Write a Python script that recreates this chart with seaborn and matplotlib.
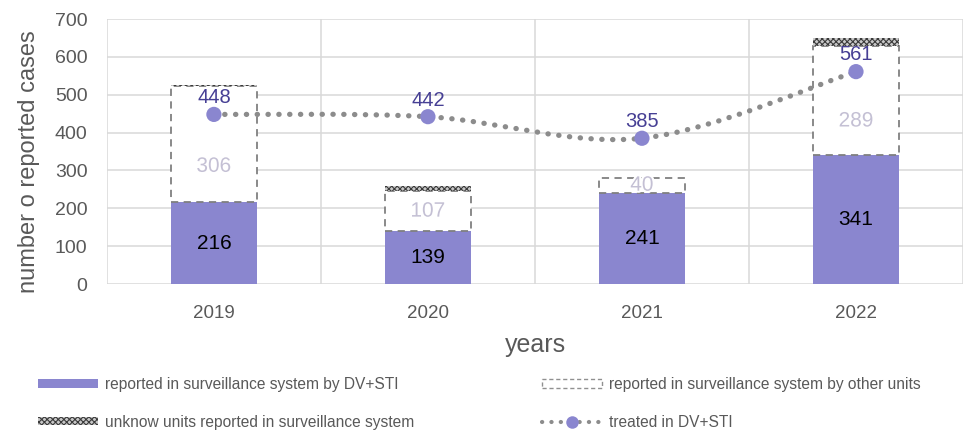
import numpy as np
import pandas as pd
import matplotlib
matplotlib.use("Agg")
import matplotlib.pyplot as plt
from matplotlib.path import Path
from matplotlib.patches import PathPatch, Patch
from matplotlib.lines import Line2D
import matplotlib.patheffects as pe
import seaborn as sns

years = ["2019", "2020", "2021", "2022"]
dv_sti = [216, 139, 241, 341]
other_units = [306, 107, 40, 289]
unknown_units = [3, 13, 0, 20]
treated = [448, 442, 385, 561]

sns.set_theme(style="white")
plt.rcParams["font.family"] = ["Liberation Sans", "DejaVu Sans"]
plt.rcParams["hatch.linewidth"] = 0.8

PURPLE = "#8A86CF"
GREY_TXT = "#595959"
GRID = "#D9D9D9"

fig = plt.figure(figsize=(9.63, 4.34), dpi=100)
ax = fig.add_axes([0.111, 0.3456, 0.889, 0.6106])

df = pd.DataFrame({"year": years, "dv": dv_sti, "other": other_units,
                   "unknown": unknown_units, "treated": treated})
x = np.arange(len(years))
width = 0.4

# DV+STI segment via seaborn
sns.barplot(data=df, x="year", y="dv", color=PURPLE, width=width,
            saturation=1, ax=ax, zorder=2, linewidth=0)

# other units segment (white, dashed outline)
bottoms_other = np.array(dv_sti)
ax.bar(x, other_units, width=width, bottom=bottoms_other, facecolor="white",
       edgecolor="#808080", linestyle=(0, (4, 3)), linewidth=1.3, zorder=3)
# unknown units segment (hatched)
bottoms_unk = bottoms_other + np.array(other_units)
ax.bar(x, unknown_units, width=width, bottom=bottoms_unk, facecolor="#C8C8C8",
       edgecolor="#3A3A3A", hatch="xxxxxx", linewidth=0, zorder=3)

# smoothed line (Excel-like bezier through the points)
pts = np.column_stack([x, treated]).astype(float)
ext = np.vstack([pts[0], pts, pts[-1]])
verts = [tuple(pts[0])]
codes = [Path.MOVETO]
for i in range(len(pts) - 1):
    p0, p1, p2, p3 = ext[i], ext[i + 1], ext[i + 2], ext[i + 3]
    c1 = p1 + (p2 - p0) / 6.0
    c2 = p2 - (p3 - p1) / 6.0
    verts += [tuple(c1), tuple(c2), tuple(p2)]
    codes += [Path.CURVE4] * 3
curve = PathPatch(Path(verts, codes), fill=False, edgecolor="#8C8C8C",
                  linewidth=3.8, linestyle=(0, (0.05, 2.0)), capstyle="round",
                  zorder=4)
ax.add_patch(curve)
sns.scatterplot(x=x, y=treated, color=PURPLE, s=120, edgecolor="none",
                ax=ax, zorder=5)

# labels
for xi, v in zip(x, dv_sti):
    ax.text(xi, v / 2, str(v), ha="center", va="center", fontsize=15,
            color="black", zorder=6)
for xi, b, v in zip(x, bottoms_other, other_units):
    ypos = b + v * 0.31 if v > 150 else b + v / 2
    ax.text(xi, ypos, str(v), ha="center", va="center", fontsize=15,
            color="#C4C0D4", zorder=6,
            path_effects=[pe.withStroke(linewidth=3, foreground="white")])
for xi, v in zip(x, treated):
    ax.annotate(str(v), (xi, v), xytext=(0, 12), textcoords="offset points",
                ha="center", va="center", fontsize=14.5, color="#463F94",
                zorder=6)

ax.set_ylim(0, 700)
ax.set_yticks(range(0, 701, 100))
ax.set_xlim(-0.5, 3.48)
ax.set_xticks(x)
ax.set_xticklabels(years)
ax.set_xticks([-0.5, 0.5, 1.5, 2.5, 3.5], minor=True)
ax.grid(axis="y", which="major", color=GRID, linewidth=1.1, zorder=0)
ax.grid(axis="x", which="minor", color=GRID, linewidth=1.1, zorder=0)
ax.set_axisbelow(True)
for s in ax.spines.values():
    s.set_visible(False)
ax.tick_params(axis="x", which="both", length=0, labelsize=13.5,
               colors=GREY_TXT, pad=15)
ax.tick_params(axis="y", which="both", length=0, labelsize=14,
               colors=GREY_TXT, pad=14)
ax.set_ylabel("number o reported cases", fontsize=17, color=GREY_TXT)
ax.yaxis.set_label_coords(-0.078, 0.46)
ax.set_xlabel("years", fontsize=18, color=GREY_TXT, labelpad=8)

handles = [
    Patch(facecolor=PURPLE, edgecolor="none"),
    Patch(facecolor="#C8C8C8", edgecolor="#3A3A3A", hatch="xxxxxx", linewidth=0),
    Patch(facecolor="white", edgecolor="#909090", linestyle=(0, (3, 2)), linewidth=1.0),
    Line2D([0], [0], color="#8C8C8C", linewidth=3, linestyle=(0, (0.05, 2.2)),
           dash_capstyle="round", marker="o", markersize=9,
           markerfacecolor=PURPLE, markeredgecolor="none"),
]
labels = [
    "reported in surveillance system by DV+STI",
    "unknow units reported in surveillance system",
    "reported in surveillance system by other units",
    "treated in DV+STI",
]
leg = fig.legend(handles, labels, ncol=2, loc="lower left",
                 bbox_to_anchor=(0.025, -0.022), frameon=False, fontsize=11.2,
                 handlelength=3.85, handleheight=0.5, handletextpad=0.45,
                 columnspacing=8.2, labelspacing=1.44, labelcolor=GREY_TXT)

fig.savefig("out.png", dpi=100)
